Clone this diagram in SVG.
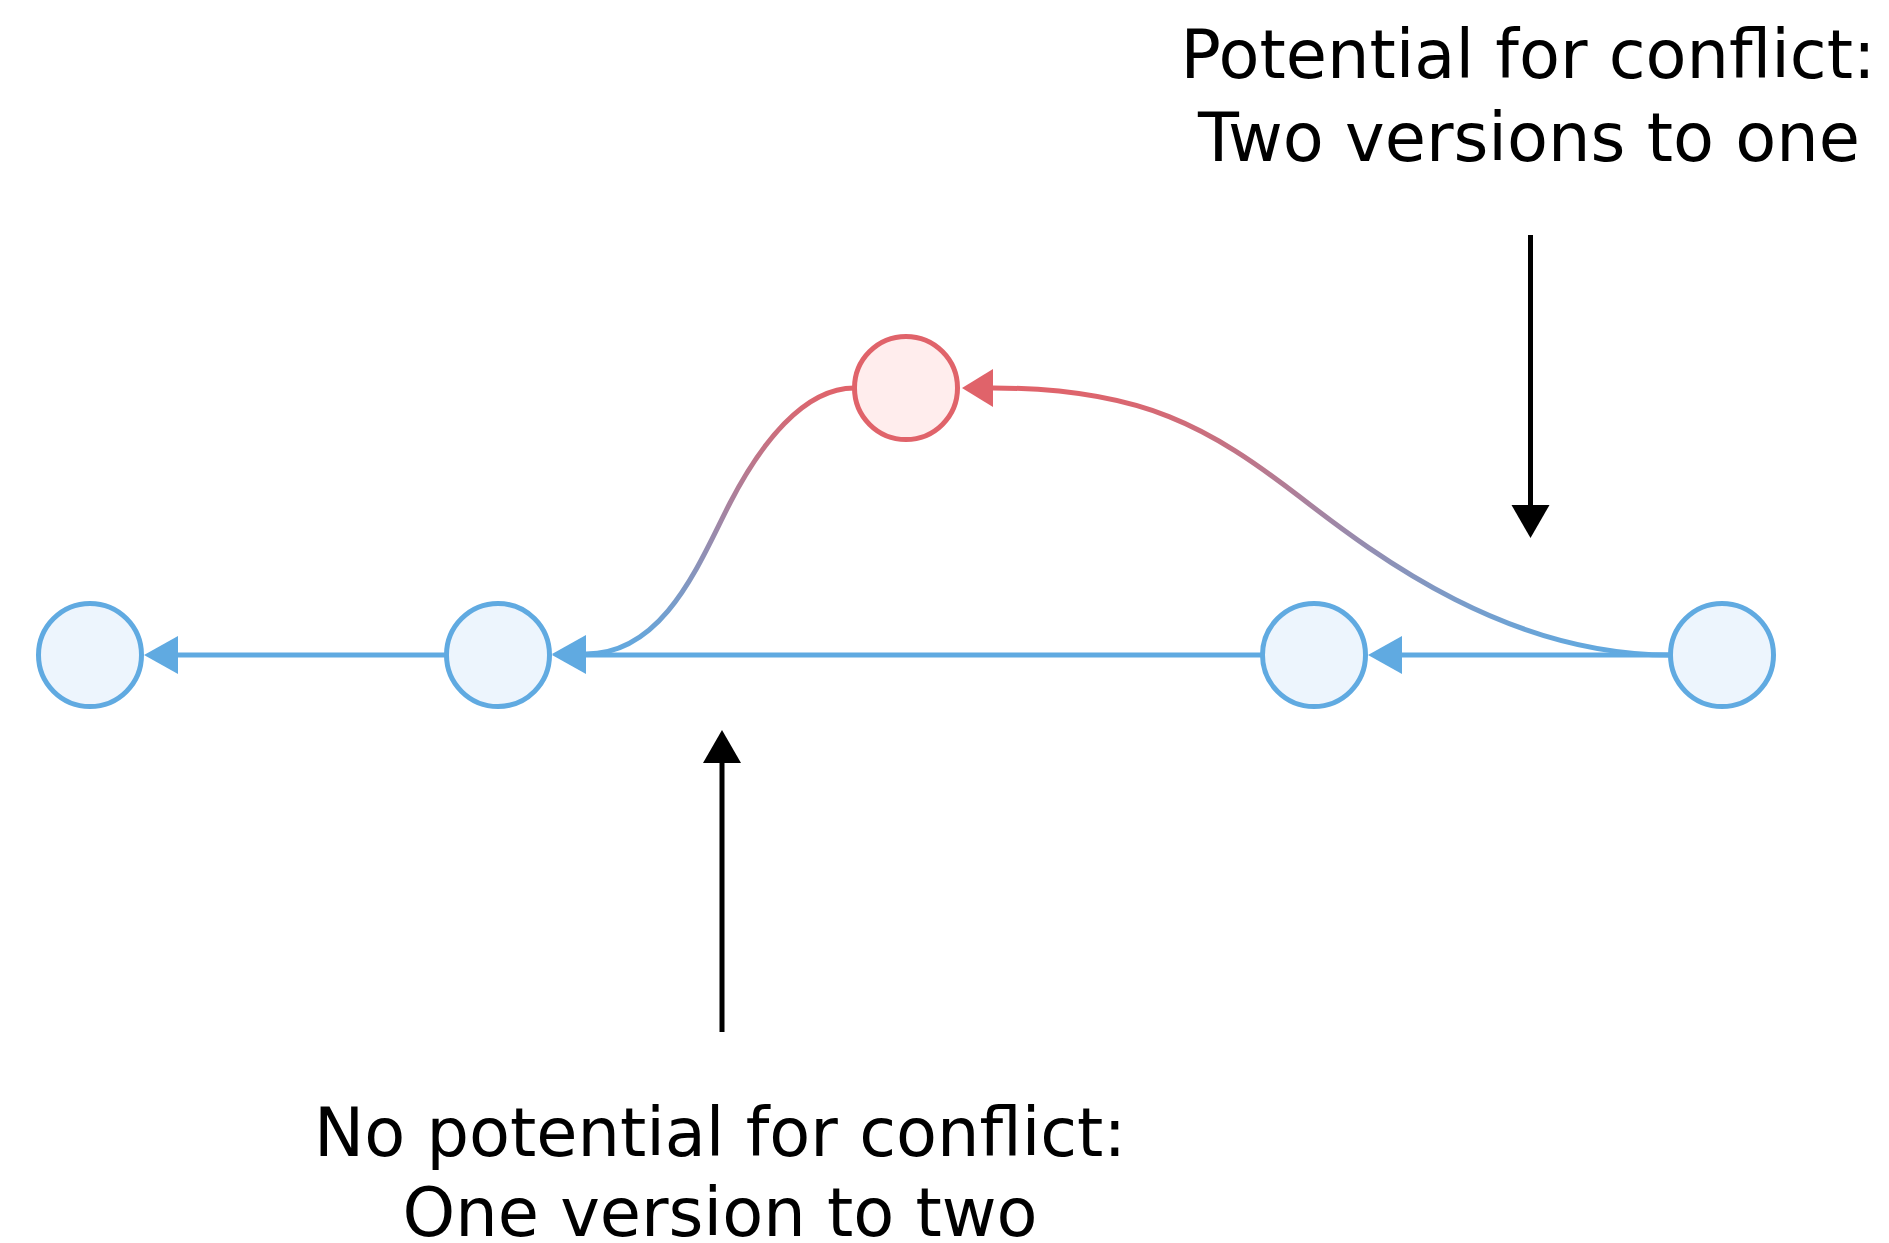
<svg xmlns="http://www.w3.org/2000/svg" width="1889" height="1243" viewBox="0 0 1889 1243">
  <style>
    .commit { fill: #edf5fd; stroke: #60aae1; stroke-width: 5; }
    .commit-conflict { fill: #ffeded; stroke: #e0636a; stroke-width: 5; }
    .edge { fill: none; stroke: #60aae1; stroke-width: 5; }
    .edge-merge { fill: none; stroke: url(#mergeGrad); stroke-width: 5; }
    .pointer { fill: none; stroke: #000000; stroke-width: 5; }
    .label { font-family: "DejaVu Sans", Verdana, sans-serif; font-size: 67px; fill: #000000; text-anchor: middle; }
  </style>
  <defs>
    <!-- vertical red-to-blue fade used by the merge/branch curves -->
    <linearGradient id="mergeGrad" gradientUnits="userSpaceOnUse" x1="0" y1="388" x2="0" y2="655">
      <stop offset="0" stop-color="#e0636a"/>
      <stop offset="1" stop-color="#60aae1"/>
    </linearGradient>
    <marker id="arrowBlue" markerUnits="userSpaceOnUse" viewBox="0 -20 35 40" refX="0" refY="0" markerWidth="35" markerHeight="40" orient="auto" overflow="visible">
      <path d="M0,-19 L34,0 L0,19 Z" fill="#60aae1"/>
    </marker>
    <marker id="arrowRed" markerUnits="userSpaceOnUse" viewBox="0 -20 35 40" refX="0" refY="0" markerWidth="35" markerHeight="40" orient="auto" overflow="visible">
      <path d="M0,-19 L31,0 L0,19 Z" fill="#e0636a"/>
    </marker>
    <marker id="arrowBlack" markerUnits="userSpaceOnUse" viewBox="0 -20 35 40" refX="0" refY="0" markerWidth="35" markerHeight="40" orient="auto" overflow="visible">
      <path d="M0,-19 L33,0 L0,19 Z" fill="#000000"/>
    </marker>
  </defs>

  <!-- connectors between commits -->
  <g id="connectors">
    <path class="edge" d="M446.5,655 L178,655" marker-end="url(#arrowBlue)"/>
    <path class="edge" d="M1262.5,655 L586,655" marker-end="url(#arrowBlue)"/>
    <path class="edge" d="M1670.5,655 L1402,655" marker-end="url(#arrowBlue)"/>
    <!-- branch off the base commit -->
    <path class="edge-merge" d="M854.5,388 C803,388 760,445 730,503 C700,561 665,654 586,654" marker-end="url(#arrowBlue)"/>
    <!-- merge back into the side commit -->
    <path class="edge-merge" d="M1670.5,655 C1509,655 1380,559 1300,497 C1210,428 1143,388 993,388" marker-end="url(#arrowRed)"/>
  </g>

  <!-- commits -->
  <g id="commit-1"><circle class="commit" cx="90" cy="655" r="51.5"/></g>
  <g id="commit-2"><circle class="commit" cx="498" cy="655" r="51.5"/></g>
  <g id="commit-3"><circle class="commit" cx="1314" cy="655" r="51.5"/></g>
  <g id="commit-4"><circle class="commit" cx="1722" cy="655" r="51.5"/></g>
  <g id="commit-side"><circle class="commit-conflict" cx="906" cy="388" r="51.5"/></g>

  <!-- annotations -->
  <g id="note-conflict">
    <path class="pointer" d="M1530.5,235 L1530.5,505" marker-end="url(#arrowBlack)"/>
    <text class="label" x="1528" y="78">Potential for conflict:</text>
    <text class="label" x="1529" y="161">Two versions to one</text>
  </g>
  <g id="note-no-conflict">
    <path class="pointer" d="M722,1032 L722,763" marker-end="url(#arrowBlack)"/>
    <text class="label" x="720" y="1156">No potential for conflict:</text>
    <text class="label" x="720" y="1236">One version to two</text>
  </g>
</svg>
